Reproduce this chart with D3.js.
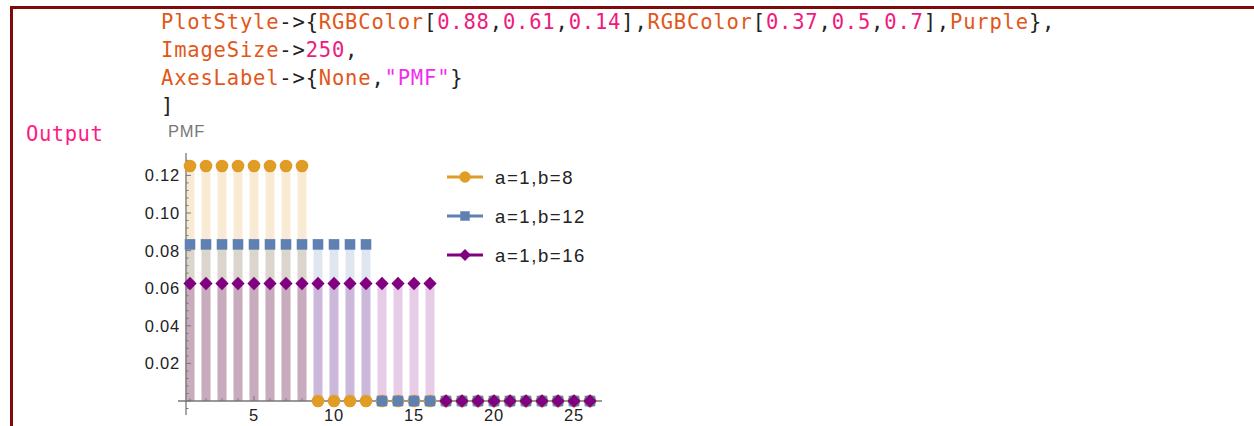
<!DOCTYPE html>
<html>
<head>
<meta charset="utf-8">
<script src="https://cdn.jsdelivr.net/npm/d3@7"></script>
<style>
    html, body { margin: 0; padding: 0; background: #fff; }
    svg { display: block; }
    .code { font-family: "DejaVu Sans Mono", monospace; font-size: 20.5px; }
    .sym { fill: #e2571a; }
    .num { fill: #f01a7c; }
    .str { fill: #f02cf0; }
    .plain { fill: #222; }
    .tick-label { font-family: "Liberation Sans", Arial, sans-serif; font-size: 16.5px; letter-spacing: 0.8px; fill: #222; }
    .legend-label { font-family: "Liberation Sans", Arial, sans-serif; font-size: 18.5px; letter-spacing: 1.6px; fill: #222; }
</style>
</head>
<body>
<svg id="chart" width="1254" height="426"></svg>
<script>
// x positions of the discrete plot
const xValues = [1, 2, 3, 4, 5, 6, 7, 8, 9, 10, 11, 12, 13, 14, 15, 16, 17, 18, 19, 20, 21, 22, 23, 24, 25, 26];
// PMF of discrete uniform a=1,b=8 / 12 / 16
const pmfB8 = [0.125, 0.125, 0.125, 0.125, 0.125, 0.125, 0.125, 0.125, 0, 0, 0, 0, 0, 0, 0, 0, 0, 0, 0, 0, 0, 0, 0, 0, 0, 0];
const pmfB12 = [0.0833, 0.0833, 0.0833, 0.0833, 0.0833, 0.0833, 0.0833, 0.0833, 0.0833, 0.0833, 0.0833, 0.0833, 0, 0, 0, 0, 0, 0, 0, 0, 0, 0, 0, 0, 0, 0];
const pmfB16 = [0.0625, 0.0625, 0.0625, 0.0625, 0.0625, 0.0625, 0.0625, 0.0625, 0.0625, 0.0625, 0.0625, 0.0625, 0.0625, 0.0625, 0.0625, 0.0625, 0, 0, 0, 0, 0, 0, 0, 0, 0, 0];
const seriesNames = ["a=1,b=8", "a=1,b=12", "a=1,b=16"];
const xTickValues = [5, 10, 15, 20, 25];
const yTickValues = [0.02, 0.04, 0.06, 0.08, 0.10, 0.12];

const colors = ["rgb(224,156,36)", "rgb(94,128,179)", "rgb(128,0,128)"];
const shapes = [d3.symbolCircle, d3.symbolSquare, d3.symbolSquare];
const symbolSizes = [125, 112, 88];
const symbolRotate = [0, 0, 45];

const svg = d3.select("#chart");

// notebook cell bracket
svg.append("rect").attr("x", 10).attr("y", 6).attr("width", 1244).attr("height", 3).attr("fill", "#7d0b0b");
svg.append("rect").attr("x", 10).attr("y", 6).attr("width", 3).attr("height", 420).attr("fill", "#7d0b0b");

const codeLines = [
    [["PlotStyle", "sym"], ["->{", "plain"], ["RGBColor", "sym"], ["[", "plain"], ["0.88", "num"], [",", "plain"], ["0.61", "num"], [",", "plain"], ["0.14", "num"], ["],", "plain"], ["RGBColor", "sym"], ["[", "plain"], ["0.37", "num"], [",", "plain"], ["0.5", "num"], [",", "plain"], ["0.7", "num"], ["],", "plain"], ["Purple", "sym"], ["},", "plain"]],
    [["ImageSize", "sym"], ["->", "plain"], ["250", "num"], [",", "plain"]],
    [["AxesLabel", "sym"], ["->{", "plain"], ["None", "sym"], [",", "plain"], ["\"PMF\"", "str"], ["}", "plain"]],
    [["]", "plain"]]
];
const charWidth = 13.15;

// monospace grid: every glyph gets its own x
function charXs(x0, start, len, w) {
    return Array.from({ length: len }, (_, k) => (x0 + (start + k) * w).toFixed(2)).join(" ");
}

codeLines.forEach((tokens, i) => {
    const line = svg.append("text").attr("class", "code").attr("y", 29 + i * 28);
    let pos = 0;
    tokens.forEach(([t, c]) => {
        line.append("tspan").attr("class", c).attr("x", charXs(161, pos, t.length, charWidth)).text(t);
        pos += t.length;
    });
});

svg.append("text").attr("class", "code").attr("y", 141).attr("fill", "#ff1a84")
    .attr("x", charXs(26, 0, 6, 12.9)).text("Output");

// plot scales
const x = d3.scaleLinear().domain([1, 26]).range([190, 590]);
const y = d3.scaleLinear().domain([0, 0.12]).range([401, 175.4]);

const axisColor = "#777";
const xAxisY = y(0);
const yAxisX = x(0.75);

const g = svg.append("g");

// stems (filling to axis)
const allSeries = [pmfB8, pmfB12, pmfB16];
const stemWidth = 9;
allSeries.forEach((vals, s) => {
    g.append("g").selectAll("rect").data(xValues.map((xv, i) => ({ x: xv, v: vals[i] })).filter((d) => d.v > 0))
        .join("rect")
        .attr("x", (d) => x(d.x) - stemWidth / 2)
        .attr("y", (d) => y(d.v))
        .attr("width", stemWidth)
        .attr("height", (d) => y(0) - y(d.v))
        .attr("fill", colors[s])
        .attr("fill-opacity", 0.2);
});

// axes
g.append("line").attr("x1", x(0.25)).attr("x2", x(26.75)).attr("y1", xAxisY).attr("y2", xAxisY)
    .attr("stroke", axisColor).attr("stroke-width", 1.3);
g.append("line").attr("x1", yAxisX).attr("x2", yAxisX).attr("y1", y(0.1319)).attr("y2", y(-0.0074))
    .attr("stroke", axisColor).attr("stroke-width", 1.3);

// x ticks: minor at each integer, major every 5
g.append("g").selectAll("line").data(xValues).join("line")
    .attr("x1", (d) => x(d)).attr("x2", (d) => x(d))
    .attr("y1", xAxisY).attr("y2", (d) => xAxisY - (xTickValues.includes(d) ? 5 : 2.5))
    .attr("stroke", axisColor).attr("stroke-width", 1);
g.append("g").selectAll("text").data(xTickValues).join("text")
    .attr("class", "tick-label")
    .attr("x", (d) => x(d)).attr("y", xAxisY + 20)
    .attr("text-anchor", "middle")
    .text((d) => d);

// y ticks: minor every 0.004
const yMinor = d3.range(-1, 33).map((k) => k * 0.004);
g.append("g").selectAll("line").data(yMinor).join("line")
    .attr("x1", yAxisX).attr("x2", (d, i) => yAxisX + ((i - 1) % 5 === 0 ? 5 : 2.5))
    .attr("y1", (d) => y(d)).attr("y2", (d) => y(d))
    .attr("stroke", axisColor).attr("stroke-width", 1);
g.append("g").selectAll("text").data(yTickValues).join("text")
    .attr("class", "tick-label")
    .attr("x", yAxisX - 6).attr("y", (d) => y(d) + 6)
    .attr("text-anchor", "end")
    .text((d) => d.toFixed(2));

svg.append("text").attr("class", "tick-label").attr("x", 168).attr("y", 137)
    .style("fill", "#777").text("PMF");

// markers, drawn series by series so later ones sit on top
allSeries.forEach((vals, s) => {
    const sym = d3.symbol().type(shapes[s]).size(symbolSizes[s]);
    g.append("g").selectAll("path").data(xValues.map((xv, i) => ({ x: xv, v: vals[i] })))
        .join("path")
        .attr("transform", (d) => `translate(${x(d.x)},${y(d.v)}) rotate(${symbolRotate[s]})`)
        .attr("d", sym)
        .attr("fill", colors[s]);
});

// legend
const legend = svg.append("g").attr("transform", "translate(447,177)");
seriesNames.forEach((name, i) => {
    const row = legend.append("g").attr("transform", `translate(0,${i * 39})`);
    row.append("line").attr("x1", 0).attr("x2", 36).attr("stroke", colors[i]).attr("stroke-width", 3);
    row.append("path").attr("transform", `translate(18,0) rotate(${symbolRotate[i]})`)
        .attr("d", d3.symbol().type(shapes[i]).size(symbolSizes[i] * 0.8)).attr("fill", colors[i]);
    row.append("text").attr("class", "legend-label").attr("x", 48).attr("y", 7).text(name);
});
</script>
</body>
</html>
